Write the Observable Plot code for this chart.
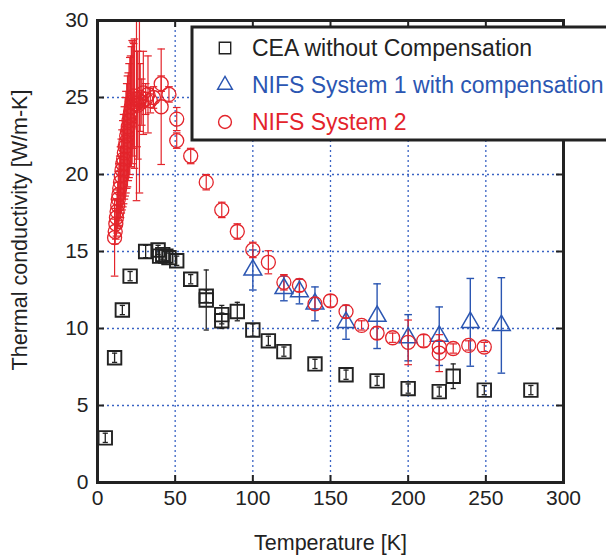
<!DOCTYPE html>
<html>
<head>
<meta charset="utf-8">
<script src="https://cdn.jsdelivr.net/npm/d3@7"></script>
<script src="https://cdn.jsdelivr.net/npm/@observablehq/plot@0.6"></script>
<style>
  html, body { margin: 0; padding: 0; background: #fff; }
  #chart svg { display: block; }
</style>
</head>
<body>
<div id="chart"></div>
<script>
// ---- Data ----
const seriesNames = ["CEA without Compensation", "NIFS System 1 with compensation", "NIFS System 2"];
const xLabel = "Temperature [K]";
const yLabel = "Thermal conductivity [W/m-K]";

const ceaT   = [5, 11, 16, 21, 31, 39, 40, 42, 44, 46, 51, 60, 70, 70, 80, 80, 90, 100, 110, 120, 140, 160, 180, 200, 220, 229, 249, 279];
const ceaK   = [2.9, 8.1, 11.2, 13.4, 15.0, 15.1, 14.7, 14.8, 14.7, 14.6, 14.4, 13.2, 12.1, 11.85, 10.9, 10.5, 11.1, 9.9, 9.2, 8.5, 7.7, 7.0, 6.6, 6.1, 5.9, 6.9, 6.0, 6.0];
const ceaErr = [0.3, 0.3, 0.3, 0.3, 0.4, 0.3, 0.4, 0.3, 0.3, 0.3, 0.3, 0.3, 0.4, 1.95, 0.6, 0.5, 0.6, 0.4, 0.3, 0.3, 0.3, 0.3, 0.3, 0.3, 0.3, 0.8, 0.3, 0.3];

const nifs1T   = [100, 120, 130, 140, 160, 180, 200, 220, 240, 260];
const nifs1K   = [13.8, 12.6, 12.4, 11.6, 10.4, 10.8, 9.4, 9.5, 10.4, 10.2];
const nifs1Err = [1.3, 0.8, 0.8, 1.1, 1.1, 2.1, 1.5, 1.9, 2.85, 3.1];

const nifs2T = [11.0, 11.4, 11.8, 12.2, 12.6, 13.0, 13.4, 13.8, 14.3, 14.8, 15.3, 15.8, 16.3, 16.8, 17.3, 17.8, 18.3, 18.8, 19.3, 19.8,
                20.3, 20.8, 21.3, 21.8, 22.3, 22.8, 23.3, 23.8, 25.1, 27.0, 25.5, 26.0, 27.5, 28.5, 29.5, 31.0, 32.5, 34.0, 36.0,
                41, 41, 46, 51, 51, 60, 70, 80, 90, 100, 110, 120, 130, 140, 150, 160, 170, 180, 190, 200, 210, 220, 220, 229, 239, 249];
const nifs2K = [15.9, 16.3, 16.8, 17.2, 17.6, 18.0, 18.4, 18.7, 19.1, 19.5, 19.9, 20.3, 20.7, 21.0, 21.4, 21.8, 22.1, 22.5, 22.8, 23.1,
                23.5, 23.8, 24.1, 24.4, 24.7, 24.9, 25.1, 24.6, 24.6, 24.8, 24.9, 24.5, 25.0, 24.7, 25.3, 24.9, 25.2, 24.8, 25.0,
                24.4, 25.9, 25.2, 23.6, 22.2, 21.2, 19.5, 17.7, 16.3, 15.1, 14.3, 13.0, 12.8, 11.6, 11.8, 11.1, 10.2, 9.7, 9.4, 9.1, 9.2, 8.8, 8.4, 8.7, 8.9, 8.8];
const nifs2Err = [2.5, 0.8, 1.0, 1.2, 1.4, 1.5, 1.8, 2.0, 2.1, 2.3, 2.4, 2.6, 2.8, 2.9, 3.0, 3.2, 3.3, 3.4, 3.6, 3.5,
                  3.7, 3.8, 3.6, 3.9, 4.0, 3.7, 3.4, 4.2, 6.3, 6.0, 3.1, 3.5, 2.2, 1.5, 2.7, 1.0, 2.5, 0.8, 0.7,
                  3.75, 0.5, 0.5, 0.75, 0.5, 0.5, 0.5, 0.5, 0.5, 0.5, 0.75, 0.5, 0.4, 0.4, 0.4, 0.4, 0.3, 0.4, 0.3, 1.45, 0.4, 0.4, 1.2, 0.3, 0.3, 0.3];

const xTicks = [0, 50, 100, 150, 200, 250, 300];
const yTicks = [0, 5, 10, 15, 20, 25, 30];
const xGrid = [50, 100, 150, 200, 250];
const yGrid = [5, 10, 15, 20, 25];

// ---- Build tables ----
const zip = (T, K, E) => T.map((t, i) => ({x: t, y: K[i], e: E[i]}));
const cea = zip(ceaT, ceaK, ceaErr);
const nifs1 = zip(nifs1T, nifs1K, nifs1Err);
const nifs2 = zip(nifs2T, nifs2K, nifs2Err);

const BLACK = "#222222", BLUE = "#2b56b2", RED = "#e3242b", GRID = "#3a63c4";
const FONT = "'Liberation Sans', Arial, Helvetica, sans-serif";

const capSym = {draw(ctx, size) { const w = Math.sqrt(size / Math.PI); ctx.moveTo(-w, 0); ctx.lineTo(w, 0); }};

function errMarks(data, color, capR, sw) {
  return [
    Plot.ruleX(data, {x: "x", y1: d => d.y - d.e, y2: d => d.y + d.e, stroke: color, strokeWidth: sw, clip: true}),
    Plot.dot(data, {x: "x", y: d => d.y + d.e, symbol: capSym, r: capR, stroke: color, fill: "none", strokeWidth: sw, clip: true}),
    Plot.dot(data, {x: "x", y: d => d.y - d.e, symbol: capSym, r: capR, stroke: color, fill: "none", strokeWidth: sw, clip: true})
  ];
}

const W = 606, H = 555, mL = 97, mR = 43, mT = 20, mB = 73;
const plotW = W - mL - mR, plotH = H - mT - mB;

const chart = Plot.plot({
  width: W, height: H,
  marginLeft: mL, marginRight: mR, marginTop: mT, marginBottom: mB,
  style: {fontFamily: FONT, fontSize: "21px", background: "#fff", color: BLACK},
  x: {domain: [0, 300]},
  y: {domain: [0, 30]},
  marks: [
    Plot.ruleX(xGrid, {x: d => d, stroke: GRID, strokeWidth: 1.3, strokeDasharray: "2,3"}),
    Plot.ruleY(yGrid, {y: d => d, stroke: GRID, strokeWidth: 1.3, strokeDasharray: "2,3"}),
    ...errMarks(cea, BLACK, 2.6, 1.3),
    ...errMarks(nifs1, BLUE, 3.8, 1.4),
    ...errMarks(nifs2, RED, 3.8, 1.2),
    Plot.dot(cea, {x: "x", y: "y", symbol: "square", r: 7.6, stroke: BLACK, fill: "none", strokeWidth: 1.9}),
    Plot.dot(nifs1, {x: "x", y: "y", symbol: "triangle", r: 6.6, stroke: BLUE, fill: "none", strokeWidth: 1.5}),
    Plot.dot(nifs2, {x: "x", y: "y", symbol: "circle", r: 7, stroke: RED, fill: "none", strokeWidth: 1.3}),
    // inward ticks on all four sides
    Plot.tickX(xTicks, {x: d => d, insetTop: plotH - 7, stroke: BLACK, strokeWidth: 2}),
    Plot.tickX(xTicks, {x: d => d, insetBottom: plotH - 7, stroke: BLACK, strokeWidth: 2}),
    Plot.tickY(yTicks, {y: d => d, insetRight: plotW - 7, stroke: BLACK, strokeWidth: 2}),
    Plot.tickY(yTicks, {y: d => d, insetLeft: plotW - 7, stroke: BLACK, strokeWidth: 2}),
    Plot.frame({stroke: BLACK, strokeWidth: 3}),
    Plot.axisX({ticks: xTicks, tickSize: 0, tickPadding: 8, label: null, fontSize: 21, tickFormat: d => String(d)}),
    Plot.axisY({ticks: yTicks, tickSize: 0, tickPadding: 9, label: null, fontSize: 21, tickFormat: d => String(d)}),
    Plot.text([xLabel], {frameAnchor: "bottom", dy: 61, fontSize: 21.5, fill: BLACK, lineAnchor: "middle"})
  ]
});

document.getElementById("chart").appendChild(chart);

const svg = d3.select(chart);
svg.style("overflow", "hidden");

// ---- Y axis title ----
svg.append("text")
  .attr("transform", `translate(27,${mT + plotH / 2 - 21}) rotate(-90)`)
  .attr("text-anchor", "middle")
  .attr("font-family", FONT).attr("font-size", 21.5).attr("fill", BLACK)
  .text(yLabel);

// ---- Legend (inside the plot, top right, running off the right edge) ----
const lg = svg.append("g").attr("font-family", FONT).attr("text-anchor", "start");
lg.append("rect").attr("x", 192).attr("y", 27).attr("width", 440).attr("height", 113)
  .attr("fill", "#fff").attr("stroke", BLACK).attr("stroke-width", 3);
const entries = [
  {name: seriesNames[0], color: BLACK, symbol: d3.symbolSquare, size: 130},
  {name: seriesNames[1], color: BLUE, symbol: d3.symbolTriangle, size: 95},
  {name: seriesNames[2], color: RED, symbol: d3.symbolCircle, size: 130}
];
entries.forEach((e, i) => {
  const cy = 48 + i * 37;
  lg.append("path").attr("d", d3.symbol(e.symbol, e.size)())
    .attr("transform", `translate(225,${cy})`)
    .attr("fill", "none").attr("stroke", e.color).attr("stroke-width", 1.4);
  lg.append("text").attr("x", 252).attr("y", cy + 8).attr("font-size", 23)
    .attr("text-anchor", "start")
    .attr("fill", e.color).text(e.name);
});
</script>
</body>
</html>
